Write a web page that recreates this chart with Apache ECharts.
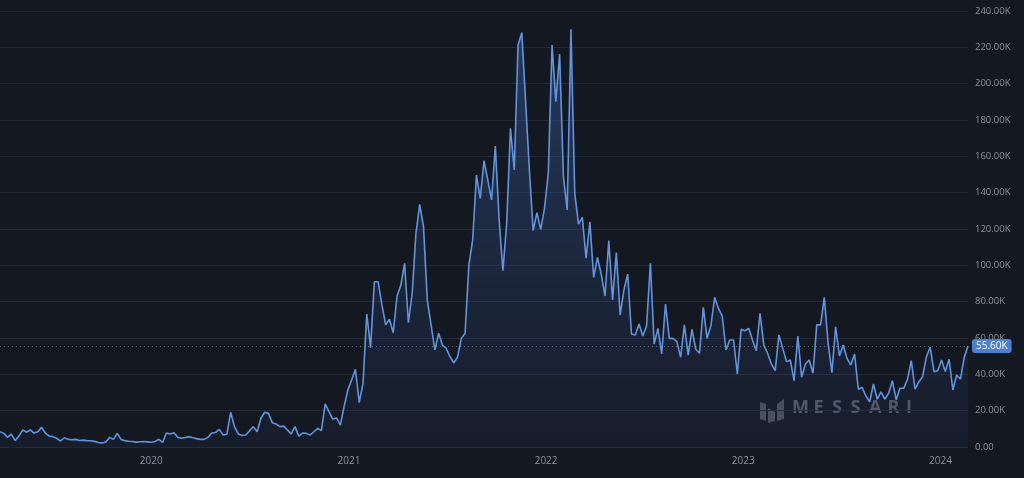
<!DOCTYPE html>
<html>
<head>
<meta charset="utf-8">
<title>Weekly volume</title>
<script src="https://cdn.jsdelivr.net/npm/echarts@6/dist/echarts.min.js"></script>
<style>
html, body { margin: 0; padding: 0; background: #141821; }
#chart-box { width: 1024px; height: 478px; }
</style>
</head>
<body>
<div id="chart-box"></div>
<script>
// weekly values, in thousands
var seg2019_2020 = [
    8.4, 7.5, 5.3, 7.1, 3.5, 6.0, 9.4, 8.3, 9.4, 7.7,
    8.4, 10.8, 7.7, 6.0, 5.7, 4.8, 3.3, 5.1, 4.2, 4.0,
    4.2, 3.6, 3.8, 3.5, 3.4, 3.1, 2.5, 2.2, 2.8, 5.3,
    4.2, 7.5, 4.2, 3.5, 3.2, 3.0, 2.7, 2.9, 3.0, 2.8,
    2.6, 3.0, 4.2, 2.5, 7.7, 7.2, 7.9, 5.3, 4.8, 5.2,
    5.7, 5.1, 4.6, 4.2, 4.2, 5.3, 7.7, 8.0, 9.7, 6.6,
    7.0, 19.1, 11.2, 7.2, 6.3, 6.6, 9.0, 11.2, 8.4, 15.8,
    19.1, 18.5, 13.4, 12.7, 11.2, 11.5, 9.4, 7.2, 11.2, 6.0,
    7.7, 7.5, 6.6, 8.4, 10.3, 9.0, 23.7, 19.5, 15.4, 16.0,
    12.1
];
var seg2021 = [
    22.2, 31.4, 37, 42.8, 24.4, 35, 73.2, 54.7, 91, 91,
    78.2, 67.2, 70.3, 62.9, 83, 89,
    101.1, 68.4, 84.6, 117.6, 133.6, 121.3, 80.9, 67.2, 53.4, 62.6,
    56.1, 54.3, 49.7, 46.4, 49.4, 59.8, 62.6, 100.2, 113.9, 149.7,
    136.9, 157.6, 147, 136, 165.7, 125, 97, 123.1, 175.4, 152.5,
    221.3, 228.1, 190.1, 152.5, 119.1, 129, 119.8, 131.4, 150.7, 221.3,
    190.1, 216.3, 148.8, 130.5, 229.9, 139.6, 122.7, 126.4, 103.9, 124,
    93.4, 104.4
];
var seg2022 = [
    95.2, 83.1, 113.6, 80.9, 107, 72.7, 86.4, 95.2, 62.2, 61.7,
    67.7, 61.1, 66.6, 101.1, 56.7, 65.3, 51.2, 78.7, 59.8, 59.8,
    58, 49.4, 67.2, 50.6, 64.8, 53.8, 51.6, 76.9, 59.8, 66.6,
    82.4, 76.3, 72.1, 53.4, 58.9, 58.9, 40.2, 64.8, 64.0, 65.3,
    58.9, 53, 73.6, 56.1, 51.6, 45.7, 42, 61.7
];
var seg2023_2024 = [
    54.3, 47, 47.9, 36.5, 61.1, 38.4, 45.7, 47.9, 40.6, 67.2,
    67.2, 82.4, 57.1, 40.9, 66.2, 50.1, 56.1, 48.8, 45.1, 51.2,
    31.8, 32.9, 28.1, 24.9, 34.7, 26.3, 30.4, 26.3, 29.6, 36.5,
    25.9, 32.3, 32.3, 37.3, 47.5, 31.8, 35.9, 38.7, 49.7, 54.9,
    41.5, 42, 47.9, 41.5, 48.3, 31.4, 39.6, 37.3, 49.4, 55.6
];
var lastWeek = [2024, 1, 21]; // 21 Feb 2024
var yearTicks = [2020, 2021, 2022, 2023, 2024];
var lastValue = 55.6;

var weekly = seg2019_2020.concat(seg2021, seg2022, seg2023_2024);
var endTs = Date.UTC(lastWeek[0], lastWeek[1], lastWeek[2]);
var DAY = 86400000;
var seriesdata = [];
for (var i = 0; i < weekly.length; i++) {
    var ts = endTs - (weekly.length - 1 - i) * 7 * DAY;
    seriesdata.push([ts, weekly[i] * 1000]);
}
var yearValues = yearTicks.map(function (y) { return Date.UTC(y, 0, 1); });

function fmtK(v) {
    if (v === 0) return '0.00';
    return (v / 1000).toFixed(2) + 'K';
}

// watermark letters, spread out like the original logo type
var markLetters = 'MESSARI'.split('').map(function (ch, k) {
    return {
        type: 'text',
        x: k === 0 ? 0 : 3 + k * 18.5,
        y: 0,
        style: {
            text: ch,
            fill: 'rgba(128,132,142,0.6)',
            fontSize: 18,
            fontWeight: 'bold',
            fontFamily: "'Open Sans', sans-serif"
        }
    };
});

var labelFont = "'Open Sans', 'Noto Sans', sans-serif";
var myChart = echarts.init(document.getElementById('chart-box'), null, { renderer: 'canvas' });
var option = {
    backgroundColor: '#141821',
    animation: false,
    grid: {
        left: 0,
        right: 56,
        top: 11,
        bottom: 31
    },
    xAxis: {
        type: 'value',
        min: seriesdata[0][0],
        max: seriesdata[seriesdata.length - 1][0],
        axisLine: { show: false },
        axisTick: { show: false },
        splitLine: { show: false },
        axisLabel: {
            customValues: yearValues,
            color: '#8c919b',
            fontSize: 10,
            fontFamily: labelFont,
            margin: 9,
            formatter: function (v) {
                return String(new Date(v).getUTCFullYear());
            }
        }
    },
    yAxis: {
        type: 'value',
        position: 'right',
        min: 0,
        max: 240000,
        interval: 20000,
        axisLine: { show: false },
        axisTick: { show: false },
        splitLine: {
            lineStyle: { color: '#232835', width: 1 }
        },
        axisLabel: {
            color: '#8c919b',
            fontSize: 9.5,
            fontFamily: labelFont,
            margin: 7,
            formatter: fmtK
        }
    },
    graphic: [{
        type: 'group',
        left: 760,
        top: 399,
        silent: true,
        children: [
            { type: 'polygon', shape: { points: [[0, 3], [6, 5], [6, 22], [0, 20]] }, style: { fill: 'rgba(128,132,142,0.5)' } },
            { type: 'polygon', shape: { points: [[8, 9], [15, 13], [15, 22], [8, 24]] }, style: { fill: 'rgba(128,132,142,0.5)' } },
            { type: 'polygon', shape: { points: [[17, 5], [24, 0], [24, 20], [17, 22]] }, style: { fill: 'rgba(128,132,142,0.5)' } }
        ]
    }, {
        type: 'group',
        left: 792,
        top: 399,
        silent: true,
        children: markLetters
    }],
    series: [{
        name: 'volume',
        type: 'line',
        data: seriesdata,
        symbol: 'none',
        lineStyle: {
            color: '#6194dc',
            width: 1.6
        },
        areaStyle: {
            color: new echarts.graphic.LinearGradient(0, 0, 0, 1, [
                { offset: 0, color: 'rgba(66,112,190,0.55)' },
                { offset: 1, color: 'rgba(50,80,140,0.12)' }
            ])
        },
        markLine: {
            silent: true,
            symbol: 'none',
            lineStyle: {
                color: 'rgba(150,155,165,0.55)',
                type: [1, 3],
                width: 1
            },
            label: {
                position: 'end',
                distance: 4,
                formatter: function () { return fmtK(lastValue * 1000); },
                color: '#ffffff',
                fontSize: 10,
                fontFamily: labelFont,
                backgroundColor: '#4c7fd2',
                borderRadius: 3,
                padding: [2, 4, 2, 4]
            },
            data: [{ yAxis: lastValue * 1000 }]
        }
    }]
};
myChart.setOption(option);
</script>
</body>
</html>
